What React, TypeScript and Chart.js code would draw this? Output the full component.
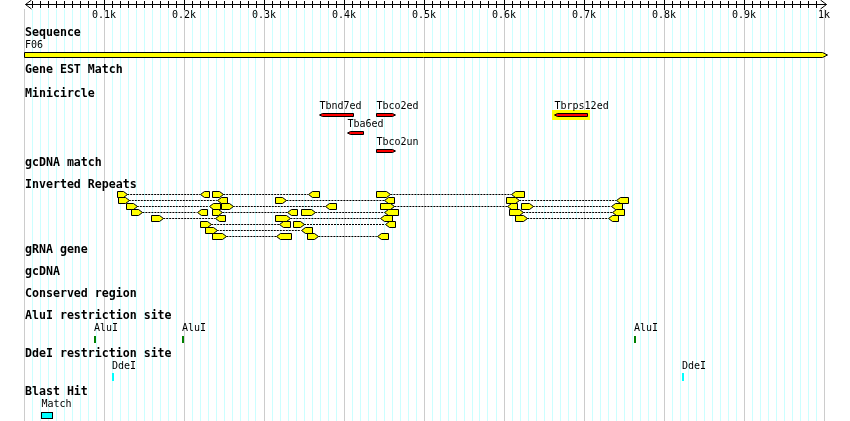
import { useEffect, useRef } from "react"
import { Chart, registerables } from "chart.js"

Chart.register(...registerables)

// sequence (bp)
const seqStart = 0
const seqEnd = 1000
const seqName = "F06"

// axis labels every 100 bp
const tickValues = [100, 200, 300, 400, 500, 600, 700, 800, 900, 1000]
const tickLabels = ["0.1k", "0.2k", "0.3k", "0.4k", "0.5k", "0.6k", "0.7k", "0.8k", "0.9k", "1k"]

const trackNames = [
  "Sequence",
  "Gene EST Match",
  "Minicircle",
  "gcDNA match",
  "Inverted Repeats",
  "gRNA gene",
  "gcDNA",
  "Conserved region",
  "AluI restriction site",
  "DdeI restriction site",
  "Blast Hit",
]

// minicircle hits
const miniNames = ["Tbnd7ed", "Tbco2ed", "Tba6ed", "Tbco2un", "Tbrps12ed"]
const miniStart = [369, 440, 404, 440, 662]
const miniEnd = [411, 464, 424, 464, 704]
const miniStrand = [-1, 1, -1, 1, -1]
const miniLane = [0, 0, 1, 2, 0]
const miniSelected = [false, false, false, false, true]

// inverted repeat pairs (forward copy -> reverse copy)
const repeatLane = [0, 0, 0, 1, 1, 1, 2, 2, 2, 2, 3, 3, 3, 3, 4, 4, 4, 5, 5, 6, 7, 7]
const repeatFwdStart = [116, 235, 440, 118, 314, 603, 128, 246, 445, 621, 134, 235, 346, 606, 159, 314, 614, 220, 336, 226, 235, 354]
const repeatFwdEnd = [129, 249, 458, 131, 328, 619, 141, 261, 463, 636, 148, 248, 364, 624, 174, 333, 629, 234, 350, 241, 253, 368]
const repeatRevStart = [220, 355, 609, 241, 450, 740, 231, 376, 604, 734, 216, 329, 450, 735, 239, 445, 730, 319, 451, 346, 315, 441]
const repeatRevEnd = [231, 369, 625, 254, 463, 755, 245, 390, 616, 748, 229, 341, 468, 750, 251, 460, 743, 333, 464, 360, 334, 455]

// restriction sites
const aluSites = [88, 197, 762]
const ddeSites = [110, 823]

// blast hits
const blastNames = ["Match"]
const blastStart = [21]
const blastEnd = [35]

// vertical layout (canvas px)
const LAYOUT = {
  gridTop: 9,
  bottom: 421,
  axisY: 4.5,
  tickLabelY: 15,
  trackLabelY: [33, 70, 93.5, 163, 185, 250, 272, 294, 316, 354, 392],
  seqNameY: 45,
  seqBarTop: 52.5,
  seqBarH: 5,
  miniLabelY: 106,
  miniBarTop: 113.5,
  miniPitch: 18,
  repeatY: 194.5,
  repeatPitch: 6,
  aluLabelY: 328.5,
  aluTop: 336,
  ddeLabelY: 366.5,
  ddeTop: 373,
  siteH: 7,
  blastLabelY: 404.5,
  blastTop: 412.5,
}

const BOLD = 'bold 11.6px "DejaVu Sans Mono"'
const SMALL = '10px "DejaVu Sans Mono"'

const crisp = (v: number) => Math.round(v) + 0.5

function arrowPath(ctx: CanvasRenderingContext2D, x0: number, x1: number, cy: number, h: number, dir: number, tip: number) {
  const top = cy - h
  const bot = cy + h
  ctx.beginPath()
  if (dir > 0) {
    ctx.moveTo(x0, top)
    ctx.lineTo(x1 - tip, top)
    ctx.lineTo(x1, cy)
    ctx.lineTo(x1 - tip, bot)
    ctx.lineTo(x0, bot)
  } else {
    ctx.moveTo(x1, top)
    ctx.lineTo(x0 + tip, top)
    ctx.lineTo(x0, cy)
    ctx.lineTo(x0 + tip, bot)
    ctx.lineTo(x1, bot)
  }
  ctx.closePath()
}

const tracksPlugin = {
  id: "tracks",
  afterDatasetsDraw(chart: any) {
    const ctx: CanvasRenderingContext2D = chart.ctx
    const xs = chart.scales.x
    const ys = chart.scales.y
    const px = (v: number) => xs.getPixelForValue(v)
    const py = (v: number) => ys.getPixelForValue(v)
    const left = px(seqStart)

    ctx.save()
    ctx.textBaseline = "middle"
    ctx.textAlign = "left"
    ctx.fillStyle = "#000"

    // track titles
    ctx.font = BOLD
    trackNames.forEach((name, i) => ctx.fillText(name, left + 1, py(LAYOUT.trackLabelY[i])))

    // sequence bar
    ctx.font = SMALL
    ctx.fillText(seqName, left + 1, py(LAYOUT.seqNameY))
    const sTop = py(LAYOUT.seqBarTop)
    const sBot = sTop + LAYOUT.seqBarH
    const sx0 = crisp(px(seqStart))
    const sx1 = crisp(px(seqEnd))
    ctx.beginPath()
    ctx.moveTo(sx0, sTop)
    ctx.lineTo(sx1 - 2, sTop)
    ctx.lineTo(sx1 + 3, (sTop + sBot) / 2)
    ctx.lineTo(sx1 - 2, sBot)
    ctx.lineTo(sx0, sBot)
    ctx.closePath()
    ctx.fillStyle = "#ffff00"
    ctx.fill()
    ctx.strokeStyle = "#000"
    ctx.lineWidth = 1
    ctx.stroke()

    // minicircle
    miniNames.forEach((name, i) => {
      const x0 = crisp(px(miniStart[i]))
      const x1 = crisp(px(miniEnd[i]))
      const top = py(LAYOUT.miniBarTop + miniLane[i] * LAYOUT.miniPitch)
      if (miniSelected[i]) {
        ctx.fillStyle = "#ffff00"
        ctx.fillRect(x0 - 2.5, top - 3.5, x1 - x0 + 5, 10)
      }
      arrowPath(ctx, x0, x1, top + 1.5, 1.5, miniStrand[i], 3)
      ctx.fillStyle = "#ff0000"
      ctx.fill()
      ctx.strokeStyle = "#000"
      ctx.stroke()
      ctx.fillStyle = "#000"
      ctx.font = SMALL
      ctx.fillText(name, x0, py(LAYOUT.miniLabelY + miniLane[i] * LAYOUT.miniPitch))
    })

    // inverted repeats
    repeatLane.forEach((lane, i) => {
      const cy = py(LAYOUT.repeatY + lane * LAYOUT.repeatPitch)
      const pieces: [number, number, number][] = [
        [repeatFwdStart[i], repeatFwdEnd[i], 1],
        [repeatRevStart[i], repeatRevEnd[i], -1],
      ]
      pieces.forEach(([a, b, d]) => {
        arrowPath(ctx, crisp(px(a)), crisp(px(b)), cy, 3, d, 4)
        ctx.fillStyle = "#ffff00"
        ctx.fill()
        ctx.strokeStyle = "#000"
        ctx.stroke()
      })
    })

    // restriction sites
    ctx.font = SMALL
    aluSites.forEach((s) => {
      const x = Math.round(px(s))
      ctx.fillStyle = "#000"
      ctx.fillText("AluI", x, py(LAYOUT.aluLabelY))
      ctx.fillStyle = "#008000"
      ctx.fillRect(x, py(LAYOUT.aluTop), 2, LAYOUT.siteH)
    })
    ddeSites.forEach((s) => {
      const x = Math.round(px(s))
      ctx.fillStyle = "#000"
      ctx.fillText("DdeI", x, py(LAYOUT.ddeLabelY))
      ctx.fillStyle = "#00ffff"
      ctx.fillRect(x, py(LAYOUT.ddeTop), 2, LAYOUT.siteH + 1)
    })

    // blast hits
    blastNames.forEach((name, i) => {
      const x0 = crisp(px(blastStart[i]))
      const x1 = crisp(px(blastEnd[i]))
      const top = py(LAYOUT.blastTop)
      ctx.fillStyle = "#000"
      ctx.fillText(name, x0, py(LAYOUT.blastLabelY))
      ctx.fillStyle = "#00ffff"
      ctx.fillRect(x0, top, x1 - x0, 6)
      ctx.strokeStyle = "#000"
      ctx.strokeRect(x0, top, x1 - x0, 6)
    })

    ctx.restore()
  },
  afterDraw(chart: any) {
    // ruler on top
    const ctx: CanvasRenderingContext2D = chart.ctx
    const xs = chart.scales.x
    const x0 = crisp(xs.getPixelForValue(seqStart))
    const x1 = crisp(xs.getPixelForValue(seqEnd))
    const ay = LAYOUT.axisY
    ctx.save()
    ctx.strokeStyle = "#000"
    ctx.lineWidth = 1
    ctx.beginPath()
    ctx.moveTo(x0 + 1, ay)
    ctx.lineTo(x1 + 2, ay)
    // end chevrons
    ctx.moveTo(x0 + 7, ay - 4.5)
    ctx.lineTo(x0 + 1, ay)
    ctx.lineTo(x0 + 7, ay + 4.5)
    ctx.moveTo(x1 - 4, ay - 4.5)
    ctx.lineTo(x1 + 2, ay)
    ctx.lineTo(x1 - 4, ay + 4.5)
    xs.ticks.forEach((t: any) => {
      if (t.value <= seqStart || t.value >= seqEnd) return
      const x = crisp(xs.getPixelForValue(t.value))
      const major = t.value % 100 === 0
      ctx.moveTo(x, major ? 0 : 1)
      ctx.lineTo(x, major ? LAYOUT.gridTop + 1 : 8)
    })
    ctx.stroke()
    ctx.fillStyle = "#000"
    ctx.font = SMALL
    ctx.textAlign = "center"
    ctx.textBaseline = "middle"
    tickValues.forEach((v, i) => ctx.fillText(tickLabels[i], xs.getPixelForValue(v), LAYOUT.tickLabelY))
    ctx.restore()
  },
}

export default function App() {
  const chartRef = useRef<HTMLCanvasElement>(null)
  const chartInstance = useRef<Chart | null>(null)

  useEffect(() => {
    if (!chartRef.current) return
    if (chartInstance.current) chartInstance.current.destroy()

    // dashed links between repeat copies, gaps between pairs
    const links: { x: number; y: number | null }[] = []
    repeatLane.forEach((lane, i) => {
      const y = LAYOUT.repeatY + lane * LAYOUT.repeatPitch
      links.push({ x: repeatFwdEnd[i], y })
      links.push({ x: repeatRevStart[i], y })
      links.push({ x: repeatRevStart[i], y: null })
    })

    chartInstance.current = new Chart(chartRef.current, {
      type: "scatter",
      data: {
        datasets: [
          {
            label: "Inverted repeat links",
            data: links as any,
            showLine: true,
            spanGaps: false,
            borderColor: "#000",
            borderWidth: 1,
            borderDash: [2, 1],
            pointRadius: 0,
          },
        ],
      },
      options: {
        animation: false,
        responsive: true,
        maintainAspectRatio: false,
        layout: { padding: { left: 24, right: 26, top: LAYOUT.gridTop, bottom: 0 } },
        plugins: { legend: { display: false }, tooltip: { enabled: false } },
        scales: {
          x: {
            type: "linear",
            position: "top",
            min: seqStart,
            max: seqEnd,
            border: { display: false },
            grid: {
              drawTicks: false,
              lineWidth: 1,
              color: (c: any) => (c.tick && c.tick.value % 100 === 0 ? "#cccccc" : "#ccffff"),
            },
            ticks: { display: false, stepSize: 10, autoSkip: false },
          },
          y: {
            type: "linear",
            display: false,
            reverse: true,
            min: LAYOUT.gridTop,
            max: LAYOUT.bottom,
          },
        },
      },
      plugins: [tracksPlugin],
    })

    return () => {
      if (chartInstance.current) {
        chartInstance.current.destroy()
        chartInstance.current = null
      }
    }
  }, [])

  return (
    <div style={{ position: "absolute", left: 0, top: 0, width: 850, height: 421, background: "#fff" }}>
      <canvas ref={chartRef} />
    </div>
  )
}
